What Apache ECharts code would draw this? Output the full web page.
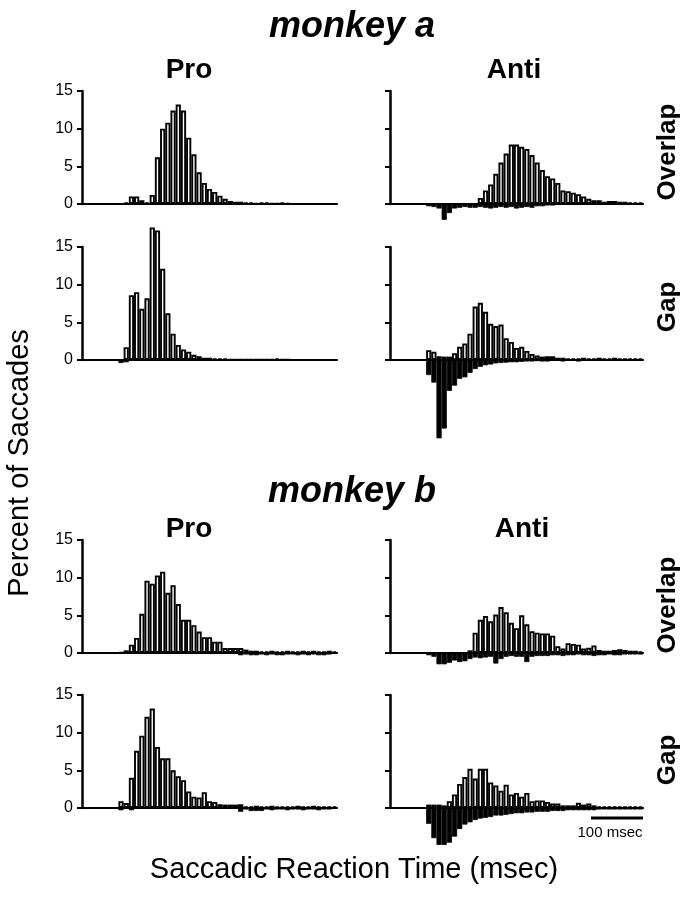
<!DOCTYPE html>
<html>
<head>
<meta charset="utf-8">
<script src="https://cdn.jsdelivr.net/npm/echarts@6/dist/echarts.min.js"></script>
<style>
  html, body { margin: 0; padding: 0; background: #fff; }
  #main { width: 696px; height: 900px; }
</style>
</head>
<body>
<div id="main"></div>
<script>
// 10 msec bins, 0 .. 480 msec
const bins = ['0','10','20','30','40','50','60','70','80','90','100','110','120','130','140','150','160','170','180','190',
  '200','210','220','230','240','250','260','270','280','290','300','310','320','330','340','350','360','370','380','390',
  '400','410','420','430','440','450','460','470','480'];

// percent of saccades per bin; "Up" = correct (open bars), "Down" = errors (filled bars, drawn below the axis)
const aProOverlapUp = [0,0,0,0,0,0,0,0, 0.2,1.0,1.0,0.5,0.2,1.2,6.2,10.0,10.8,12.4,13.2,12.4,8.8,6.6,4.2,2.8,2.0,1.6,1.1,0.7,0.4,0.3,0.3,0.2,0.2,0.1,0.2,0.2,0.1,0.1,0.2,0.1];
const aProOverlapDown = [];

const aProGapUp = [0,0,0,0,0,0,0,0, 1.7,8.6,9.0,6.8,8.2,17.6,17.2,12.1,6.2,3.5,2.0,1.4,1.1,0.7,0.5,0.3,0.3,0.2,0.2,0.2,0.1,0.1,0.1,0.1,0.1,0.1,0.1,0.1,0.1,0.2,0.1,0.1];
const aProGapDown = [0,0,0,0,0,0,0, 0.4,0.3];

const aAntiOverlapUp = [0,0,0,0,0,0,0,0,0,0,0,0,0,0,0,0,0, 0.8,1.8,2.6,4.0,5.5,6.7,7.9,7.9,7.6,7.3,6.5,5.5,4.5,3.7,3.4,2.8,1.8,1.7,1.5,1.3,1.0,0.7,0.5,0.5,0.3,0.4,0.4,0.3,0.3,0.2,0.2,0.2];
const aAntiOverlapDown = [0,0,0,0,0,0,0, 0.3,0.4,0.6,2.1,1.2,0.6,0.5,0.4,0.5,0.5,0.4,0.5,0.6,0.5,0.4,0.5,0.4,0.6,0.5,0.4,0.5,0.3,0.3,0.2,0.2,0.1,0.1,0.1,0.1,0.1,0.1,0.1,0.1,0.1];

const aAntiGapUp = [0,0,0,0,0,0,0, 1.3,1.1,0.5,0.45,0.45,0.9,1.75,2.2,3.5,7.1,7.6,6.4,4.8,4.5,4.7,2.9,2.4,1.6,1.75,1.2,0.8,0.6,0.45,0.5,0.5,0.3,0.3,0.2,0.2,0.2,0.3,0.2,0.2,0.3,0.2,0.2,0.3,0.2,0.2,0.2,0.2,0.2];
const aAntiGapDown = [0,0,0,0,0,0,0, 2.0,3.0,10.4,9.1,4.1,3.4,2.5,2.3,1.7,1.2,0.9,0.7,0.6,0.45,0.4,0.35,0.3,0.3,0.25,0.2,0.2,0.15,0.2,0.2,0.1,0.1,0.2,0.1,0.1,0.2,0.1,0.1,0.1,0.1];

const bProOverlapUp = [0,0,0,0,0,0,0, 0.1,0.35,1.1,2.0,5.2,9.6,9.2,10.3,10.8,8.0,9.0,6.5,4.4,4.4,3.7,2.85,2.1,2.1,1.5,1.5,0.65,0.65,0.65,0.65,0.45,0.3,0.3,0.2,0.2,0.3,0.2,0.2,0.3,0.2,0.2,0.3,0.2,0.3,0.2,0.2,0.3,0.2];
const bProOverlapDown = [0,0,0,0,0,0,0,0,0,0,0,0,0,0,0,0,0,0,0,0,0,0,0,0,0,0,0,0,0,0, 0.3,0.2,0.3,0.3,0.2,0.3,0.2,0.3,0.3,0.2,0.2,0.3,0.2,0.3,0.2,0.3,0.3,0.2];

const bProGapUp = [0,0,0,0,0,0,0, 0.9,0.65,4.0,7.6,9.6,12.1,13.2,8.1,6.6,6.6,5.0,4.2,3.7,2.2,1.5,1.4,2.1,0.9,0.8,0.5,0.45,0.45,0.45,0.5,0.2,0.2,0.3,0.2,0.2,0.3,0.2,0.2,0.2,0.2,0.3,0.2,0.2,0.3,0.2,0.2,0.2,0.2];
const bProGapDown = [0,0,0,0,0,0,0, 0.3,0,0.3,0,0,0,0,0,0,0,0,0,0,0,0,0,0,0,0,0,0,0,0, 0.5,0.2,0.4,0.4,0.4,0.2,0.3,0.2,0.2,0.3,0.2,0.2,0.3,0.2,0.2,0.3,0.2,0.2];

const bAntiOverlapUp = [0,0,0,0,0,0,0,0,0,0,0,0,0,0,0, 0.35,2.7,4.4,4.9,4.2,5.1,6.1,5.4,4.0,3.3,5.0,3.8,2.9,2.7,2.6,2.6,2.3,0.9,0.6,1.3,1.2,1.1,0.6,0.7,1.0,0.4,0.3,0.3,0.4,0.5,0.4,0.3,0.3,0.2];
const bAntiOverlapDown = [0,0,0,0,0,0,0, 0.3,0.5,1.5,1.5,1.3,1.0,1.2,1.1,0.8,0.6,0.7,0.6,0.5,1.4,0.8,0.5,0.4,0.5,0.5,1.2,0.5,0.4,0.4,0.4,0.3,0.3,0.4,0.3,0.3,0.2,0.3,0.3,0.4,0.3,0.3,0.2,0.3,0.3,0.2,0.2,0.2,0.2];

const bAntiGapUp = [0,0,0,0,0,0,0, 0.45,0.45,0.45,0.35,0.9,1.8,3.2,4.1,5.2,3.9,5.2,5.2,3.4,3.0,2.3,3.1,1.8,2.0,1.5,2.0,0.9,1.0,1.0,0.8,0.6,0.6,0.35,0.35,0.35,0.7,0.45,0.6,0.35,0.2,0.2,0.2,0.2,0.2,0.2,0.2,0.2,0.2];
const bAntiGapDown = [0,0,0,0,0,0,0, 2.1,4.0,4.9,4.9,4.6,3.8,2.8,2.2,1.9,1.6,1.4,1.3,1.2,1.0,1.0,0.9,0.8,0.7,0.7,0.6,0.6,0.5,0.5,0.5,0.4,0.4,0.4,0.3,0.3,0.3,0.3,0.3,0.3,0.2,0.2,0.2,0.2,0.2,0.2,0.2,0.2,0.2];

// layout of the 8 panels
const rowTops = [91, 247, 540, 695];
const colLefts = [82, 390];
const colWidths = [255, 253];
const panelH = 113;      // 0..15 %
const lowerMax = 12;     // room for error bars below the axis

const panels = [
  { row: 0, col: 0, up: aProOverlapUp,  down: aProOverlapDown },
  { row: 0, col: 1, up: aAntiOverlapUp, down: aAntiOverlapDown },
  { row: 1, col: 0, up: aProGapUp,      down: aProGapDown },
  { row: 1, col: 1, up: aAntiGapUp,     down: aAntiGapDown },
  { row: 2, col: 0, up: bProOverlapUp,  down: bProOverlapDown },
  { row: 2, col: 1, up: bAntiOverlapUp, down: bAntiOverlapDown },
  { row: 3, col: 0, up: bProGapUp,      down: bProGapDown },
  { row: 3, col: 1, up: bAntiGapUp,     down: bAntiGapDown }
];

function fill(arr) {
  const out = [];
  for (let i = 0; i < bins.length; i++) {
    const v = arr[i];
    out.push(v ? v : null);
  }
  return out;
}

const FONT = '"Liberation Sans", Arial, Helvetica, sans-serif';
const grid = [], xAxis = [], yAxis = [], series = [];

panels.forEach((p, i) => {
  const top = rowTops[p.row];
  const left = colLefts[p.col];
  const width = colWidths[p.col];
  // upper grid: correct responses
  grid.push({ left: left, top: top, width: width, height: panelH });
  // lower grid: errors, hangs below the baseline
  grid.push({ left: left, top: top + panelH, width: width, height: panelH / 15 * lowerMax });

  xAxis.push({
    gridIndex: 2 * i, type: 'category', data: bins,
    axisLine: { show: true, onZero: false, lineStyle: { color: '#000', width: 2.2 } },
    axisTick: { show: false }, axisLabel: { show: false }
  });
  xAxis.push({ gridIndex: 2 * i + 1, type: 'category', data: bins, show: false });

  yAxis.push({
    gridIndex: 2 * i, type: 'value', min: 0, max: 15, interval: 5,
    axisLine: { show: true, lineStyle: { color: '#000', width: 2.5 } },
    axisTick: { show: true, length: 5, lineStyle: { color: '#000', width: 2 } },
    axisLabel: { show: p.col === 0, color: '#000', fontSize: 16, fontFamily: FONT, margin: 9 },
    splitLine: { show: false }
  });
  yAxis.push({ gridIndex: 2 * i + 1, type: 'value', min: 0, max: lowerMax, inverse: true, show: false });

  series.push({
    type: 'bar', xAxisIndex: 2 * i, yAxisIndex: 2 * i, data: fill(p.up),
    barCategoryGap: '0%', clip: false, silent: true,
    itemStyle: { color: '#fff', borderColor: '#000', borderWidth: 1.9 }
  });
  series.push({
    type: 'bar', xAxisIndex: 2 * i + 1, yAxisIndex: 2 * i + 1, data: fill(p.down),
    barCategoryGap: '0%', clip: false, silent: true,
    itemStyle: { color: '#000', borderColor: '#000', borderWidth: 0.8 }
  });
});

function label(text, x, y, font, rot) {
  return {
    type: 'text', x: x, y: y, rotation: rot || 0, silent: true,
    style: { text: text, font: font, fill: '#000', textAlign: 'center', textVerticalAlign: 'middle' }
  };
}

const graphic = [
  label('monkey a', 352, 27, 'italic bold 36px ' + FONT),
  label('monkey b', 352, 492, 'italic bold 36px ' + FONT),
  label('Pro', 189, 70, 'bold 28px ' + FONT),
  label('Anti', 514, 70, 'bold 28px ' + FONT),
  label('Pro', 189, 529, 'bold 28px ' + FONT),
  label('Anti', 522, 529, 'bold 28px ' + FONT),
  label('Overlap', 668, 152, 'bold 26px ' + FONT, Math.PI / 2),
  label('Gap', 668, 307, 'bold 26px ' + FONT, Math.PI / 2),
  label('Overlap', 668, 605, 'bold 26px ' + FONT, Math.PI / 2),
  label('Gap', 668, 760, 'bold 26px ' + FONT, Math.PI / 2),
  label('Percent of Saccades', 20, 463, '29px ' + FONT, Math.PI / 2),
  label('Saccadic Reaction Time (msec)', 354, 870, '29px ' + FONT),
  label('100 msec', 610, 833, '15px ' + FONT),
  // 100 msec scale bar
  { type: 'line', silent: true, shape: { x1: 591, y1: 818, x2: 643, y2: 818 }, style: { stroke: '#000', lineWidth: 3 } }
];

const chart = echarts.init(document.getElementById('main'), null, { renderer: 'canvas' });
chart.setOption({
  animation: false,
  backgroundColor: '#fff',
  grid: grid,
  xAxis: xAxis,
  yAxis: yAxis,
  series: series,
  graphic: graphic
});
</script>
</body>
</html>
